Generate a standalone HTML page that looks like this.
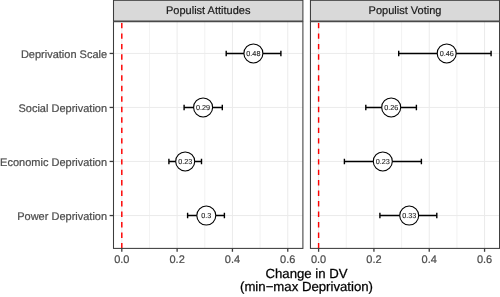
<!DOCTYPE html><html><head><meta charset="utf-8"><title>Plot</title><style>html,body{margin:0;padding:0;background:#fff}svg{display:block}text{font-family:"Liberation Sans",Arial,sans-serif;text-rendering:geometricPrecision}.a{fill:#4D4D4D;stroke:#4D4D4D;stroke-width:.22px;font-size:11px}</style></head><body>
<svg width="500" height="297" viewBox="0 0 500 297">
<rect width="500" height="297" fill="#fff"/>
<line x1="121.80" x2="121.80" y1="21.5" y2="248.4" stroke="#EBEBEB" stroke-width="1.0"/>
<line x1="149.46" x2="149.46" y1="21.5" y2="248.4" stroke="#EBEBEB" stroke-width="0.65"/>
<line x1="177.12" x2="177.12" y1="21.5" y2="248.4" stroke="#EBEBEB" stroke-width="1.0"/>
<line x1="204.78" x2="204.78" y1="21.5" y2="248.4" stroke="#EBEBEB" stroke-width="0.65"/>
<line x1="232.44" x2="232.44" y1="21.5" y2="248.4" stroke="#EBEBEB" stroke-width="1.0"/>
<line x1="260.10" x2="260.10" y1="21.5" y2="248.4" stroke="#EBEBEB" stroke-width="0.65"/>
<line x1="287.76" x2="287.76" y1="21.5" y2="248.4" stroke="#EBEBEB" stroke-width="1.0"/>
<line x1="113.5" x2="302.9" y1="53.45" y2="53.45" stroke="#EBEBEB" stroke-width="1.0"/>
<line x1="113.5" x2="302.9" y1="107.45" y2="107.45" stroke="#EBEBEB" stroke-width="1.0"/>
<line x1="113.5" x2="302.9" y1="161.45" y2="161.45" stroke="#EBEBEB" stroke-width="1.0"/>
<line x1="113.5" x2="302.9" y1="215.55" y2="215.55" stroke="#EBEBEB" stroke-width="1.0"/>
<line x1="121.8" x2="121.8" y1="248.4" y2="21.5" stroke="#FF0000" stroke-width="1.45" stroke-dasharray="5.4 5.08"/>
<path d="M226.2 50.75V56.150000000000006M226.2 53.45H280.9M280.9 50.75V56.150000000000006" stroke="#000" stroke-width="1.4" fill="none"/>
<circle cx="253.4" cy="53.45" r="9.5" fill="#fff" stroke="#000" stroke-width="1.1"/>
<text x="253.4" y="55.90" font-size="7.25" text-anchor="middle" fill="#1a1a1a" stroke="#1a1a1a" stroke-width="0.1">0.48</text>
<path d="M184.1 104.75V110.15M184.1 107.45H222.3M222.3 104.75V110.15" stroke="#000" stroke-width="1.4" fill="none"/>
<circle cx="203.1" cy="107.45" r="9.5" fill="#fff" stroke="#000" stroke-width="1.1"/>
<text x="203.1" y="109.90" font-size="7.25" text-anchor="middle" fill="#1a1a1a" stroke="#1a1a1a" stroke-width="0.1">0.29</text>
<path d="M168.9 158.75V164.14999999999998M168.9 161.45H201.5M201.5 158.75V164.14999999999998" stroke="#000" stroke-width="1.4" fill="none"/>
<circle cx="185.2" cy="161.45" r="9.5" fill="#fff" stroke="#000" stroke-width="1.1"/>
<text x="185.2" y="163.90" font-size="7.25" text-anchor="middle" fill="#1a1a1a" stroke="#1a1a1a" stroke-width="0.1">0.23</text>
<path d="M187.6 212.85000000000002V218.25M187.6 215.55H224.4M224.4 212.85000000000002V218.25" stroke="#000" stroke-width="1.4" fill="none"/>
<circle cx="206.3" cy="215.55" r="9.5" fill="#fff" stroke="#000" stroke-width="1.1"/>
<text x="206.3" y="218.00" font-size="7.25" text-anchor="middle" fill="#1a1a1a" stroke="#1a1a1a" stroke-width="0.1">0.3</text>
<rect x="113.5" y="0.3" width="189.4" height="20.75" fill="#D9D9D9" stroke="#3c3c3c" stroke-width="1.05"/>
<text x="208.2" y="14.1" font-size="11" text-anchor="middle" fill="#1A1A1A" stroke="#1A1A1A" stroke-width="0.2">Populist Attitudes</text>
<rect x="113.5" y="21.7" width="189.4" height="226.7" fill="none" stroke="#3c3c3c" stroke-width="1.05"/>
<line x1="121.80" x2="121.80" y1="248.4" y2="251.8" stroke="#3c3c3c" stroke-width="1.3"/>
<text x="121.80" y="263" class="a" text-anchor="middle">0.0</text>
<line x1="177.12" x2="177.12" y1="248.4" y2="251.8" stroke="#3c3c3c" stroke-width="1.3"/>
<text x="177.12" y="263" class="a" text-anchor="middle">0.2</text>
<line x1="232.44" x2="232.44" y1="248.4" y2="251.8" stroke="#3c3c3c" stroke-width="1.3"/>
<text x="232.44" y="263" class="a" text-anchor="middle">0.4</text>
<line x1="287.76" x2="287.76" y1="248.4" y2="251.8" stroke="#3c3c3c" stroke-width="1.3"/>
<text x="287.76" y="263" class="a" text-anchor="middle">0.6</text>
<line x1="318.60" x2="318.60" y1="21.5" y2="248.4" stroke="#EBEBEB" stroke-width="1.0"/>
<line x1="346.26" x2="346.26" y1="21.5" y2="248.4" stroke="#EBEBEB" stroke-width="0.65"/>
<line x1="373.92" x2="373.92" y1="21.5" y2="248.4" stroke="#EBEBEB" stroke-width="1.0"/>
<line x1="401.58" x2="401.58" y1="21.5" y2="248.4" stroke="#EBEBEB" stroke-width="0.65"/>
<line x1="429.24" x2="429.24" y1="21.5" y2="248.4" stroke="#EBEBEB" stroke-width="1.0"/>
<line x1="456.90" x2="456.90" y1="21.5" y2="248.4" stroke="#EBEBEB" stroke-width="0.65"/>
<line x1="484.56" x2="484.56" y1="21.5" y2="248.4" stroke="#EBEBEB" stroke-width="1.0"/>
<line x1="310.45" x2="499.5" y1="53.45" y2="53.45" stroke="#EBEBEB" stroke-width="1.0"/>
<line x1="310.45" x2="499.5" y1="107.45" y2="107.45" stroke="#EBEBEB" stroke-width="1.0"/>
<line x1="310.45" x2="499.5" y1="161.45" y2="161.45" stroke="#EBEBEB" stroke-width="1.0"/>
<line x1="310.45" x2="499.5" y1="215.55" y2="215.55" stroke="#EBEBEB" stroke-width="1.0"/>
<line x1="318.6" x2="318.6" y1="248.4" y2="21.5" stroke="#FF0000" stroke-width="1.45" stroke-dasharray="5.4 5.08"/>
<path d="M398.7 50.75V56.150000000000006M398.7 53.45H491.1M491.1 50.75V56.150000000000006" stroke="#000" stroke-width="1.4" fill="none"/>
<circle cx="446.7" cy="53.45" r="9.5" fill="#fff" stroke="#000" stroke-width="1.1"/>
<text x="446.7" y="55.90" font-size="7.25" text-anchor="middle" fill="#1a1a1a" stroke="#1a1a1a" stroke-width="0.1">0.46</text>
<path d="M365.8 104.75V110.15M365.8 107.45H416.4M416.4 104.75V110.15" stroke="#000" stroke-width="1.4" fill="none"/>
<circle cx="391.2" cy="107.45" r="9.5" fill="#fff" stroke="#000" stroke-width="1.1"/>
<text x="391.2" y="109.90" font-size="7.25" text-anchor="middle" fill="#1a1a1a" stroke="#1a1a1a" stroke-width="0.1">0.26</text>
<path d="M344.4 158.75V164.14999999999998M344.4 161.45H421.4M421.4 158.75V164.14999999999998" stroke="#000" stroke-width="1.4" fill="none"/>
<circle cx="382.8" cy="161.45" r="9.5" fill="#fff" stroke="#000" stroke-width="1.1"/>
<text x="382.8" y="163.90" font-size="7.25" text-anchor="middle" fill="#1a1a1a" stroke="#1a1a1a" stroke-width="0.1">0.23</text>
<path d="M379.9 212.85000000000002V218.25M379.9 215.55H436.8M436.8 212.85000000000002V218.25" stroke="#000" stroke-width="1.4" fill="none"/>
<circle cx="409.2" cy="215.55" r="9.5" fill="#fff" stroke="#000" stroke-width="1.1"/>
<text x="409.2" y="218.00" font-size="7.25" text-anchor="middle" fill="#1a1a1a" stroke="#1a1a1a" stroke-width="0.1">0.33</text>
<rect x="310.45" y="0.3" width="189.1" height="20.75" fill="#D9D9D9" stroke="#3c3c3c" stroke-width="1.05"/>
<text x="405.0" y="14.1" font-size="11" text-anchor="middle" fill="#1A1A1A" stroke="#1A1A1A" stroke-width="0.2">Populist Voting</text>
<rect x="310.45" y="21.7" width="189.1" height="226.7" fill="none" stroke="#3c3c3c" stroke-width="1.05"/>
<line x1="318.60" x2="318.60" y1="248.4" y2="251.8" stroke="#3c3c3c" stroke-width="1.3"/>
<text x="318.60" y="263" class="a" text-anchor="middle">0.0</text>
<line x1="373.92" x2="373.92" y1="248.4" y2="251.8" stroke="#3c3c3c" stroke-width="1.3"/>
<text x="373.92" y="263" class="a" text-anchor="middle">0.2</text>
<line x1="429.24" x2="429.24" y1="248.4" y2="251.8" stroke="#3c3c3c" stroke-width="1.3"/>
<text x="429.24" y="263" class="a" text-anchor="middle">0.4</text>
<line x1="484.56" x2="484.56" y1="248.4" y2="251.8" stroke="#3c3c3c" stroke-width="1.3"/>
<text x="484.56" y="263" class="a" text-anchor="middle">0.6</text>
<line x1="109.6" x2="113.5" y1="53.45" y2="53.45" stroke="#3c3c3c" stroke-width="1.3"/>
<text x="107.1" y="57.75" class="a" text-anchor="end">Deprivation Scale</text>
<line x1="109.6" x2="113.5" y1="107.45" y2="107.45" stroke="#3c3c3c" stroke-width="1.3"/>
<text x="107.1" y="111.75" class="a" text-anchor="end">Social Deprivation</text>
<line x1="109.6" x2="113.5" y1="161.45" y2="161.45" stroke="#3c3c3c" stroke-width="1.3"/>
<text x="107.1" y="165.75" class="a" text-anchor="end">Economic Deprivation</text>
<line x1="109.6" x2="113.5" y1="215.55" y2="215.55" stroke="#3c3c3c" stroke-width="1.3"/>
<text x="107.1" y="219.85" class="a" text-anchor="end">Power Deprivation</text>
<text x="306.5" y="278" font-size="13.2" text-anchor="middle" fill="#000" stroke="#000" stroke-width="0.25">Change in DV</text>
<text x="306.5" y="290.8" font-size="13.2" text-anchor="middle" fill="#000" stroke="#000" stroke-width="0.25">(min−max Deprivation)</text>
</svg></body></html>
